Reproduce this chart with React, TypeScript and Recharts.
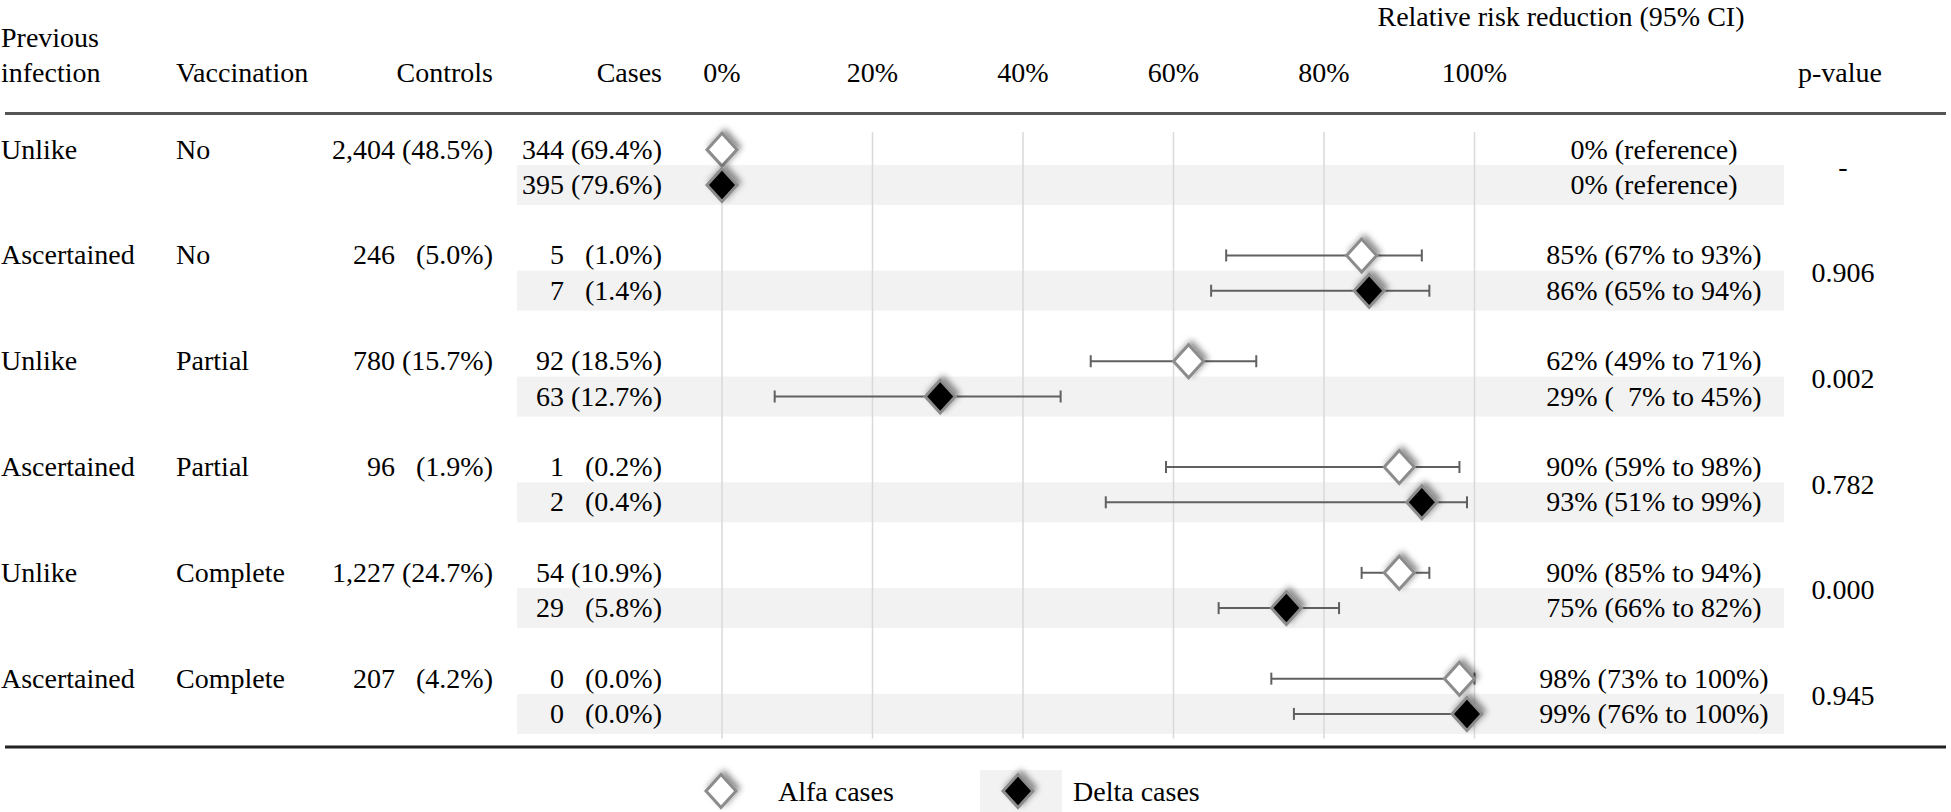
import React from 'react';
import { ScatterChart, Scatter, XAxis, YAxis, CartesianGrid, ErrorBar } from 'recharts';

// --- table data ---
const infection = ['Unlike', 'Ascertained', 'Unlike', 'Ascertained', 'Unlike', 'Ascertained'];
const vaccination = ['No', 'No', 'Partial', 'Partial', 'Complete', 'Complete'];
const controls = ['2,404 (48.5%)', '246   (5.0%)', '780 (15.7%)', '96   (1.9%)', '1,227 (24.7%)', '207   (4.2%)'];
const alfaCases = ['344 (69.4%)', '5   (1.0%)', '92 (18.5%)', '1   (0.2%)', '54 (10.9%)', '0   (0.0%)'];
const deltaCases = ['395 (79.6%)', '7   (1.4%)', '63 (12.7%)', '2   (0.4%)', '29   (5.8%)', '0   (0.0%)'];

// relative risk reduction (%) and 95% CI
const alfaRR = [0, 85, 62, 90, 90, 98];
const alfaLo = [null, 67, 49, 59, 85, 73];
const alfaHi = [null, 93, 71, 98, 94, 100];
const deltaRR = [0, 86, 29, 93, 75, 99];
const deltaLo = [null, 65, 7, 51, 66, 76];
const deltaHi = [null, 94, 45, 99, 82, 100];

const alfaLabels = ['0% (reference)', '85% (67% to 93%)', '62% (49% to 71%)', '90% (59% to 98%)', '90% (85% to 94%)', '98% (73% to 100%)'];
const deltaLabels = ['0% (reference)', '86% (65% to 94%)', '29% (  7% to 45%)', '93% (51% to 99%)', '75% (66% to 82%)', '99% (76% to 100%)'];
const pValues = ['-', '0.906', '0.002', '0.782', '0.000', '0.945'];
const xTicks = [0, 20, 40, 60, 80, 100];

// --- layout ---
const W = 1951;
const H = 812;
const FONT = '"Liberation Serif", "Times New Roman", serif';
const FS = 28;
const PLOT_LEFT = 722;
const PLOT_RIGHT = 1474.5;
const PLOT_TOP = 132;
const PLOT_BOTTOM = 738.6;
const X_AXIS_H = 60;
const Y_MIN = -0.5;
const Y_MAX = 16.7;

const rowY = (r: number) => PLOT_TOP + ((r - Y_MIN) * (PLOT_BOTTOM - PLOT_TOP)) / (Y_MAX - Y_MIN);

const makePoints = (rr: number[], lo: (number | null)[], hi: (number | null)[], offset: number) =>
  rr.map((v, g) => ({
    x: v,
    y: g * 3 + offset,
    err: lo[g] == null ? null : [v - (lo[g] as number), (hi[g] as number) - v],
  }));

const alfaPoints = makePoints(alfaRR, alfaLo, alfaHi, 0);
const deltaPoints = makePoints(deltaRR, deltaLo, deltaHi, 1);

const Diamond = ({ cx, cy, fill }: { cx: number; cy: number; fill: string }) => (
  <polygon
    points={`${cx},${cy - 16.5} ${cx + 15},${cy} ${cx},${cy + 16.5} ${cx - 15},${cy}`}
    fill={fill}
    stroke="#8c8c8c"
    strokeWidth={3}
    filter="url(#dshadow)"
  />
);

const T = ({ x, y, anchor = 'start', children }: any) => (
  <text
    x={x}
    y={y}
    textAnchor={anchor}
    fontFamily={FONT}
    fontSize={FS}
    fill="#000"
    xmlSpace="preserve"
    style={{ whiteSpace: 'pre' }}
  >
    {children}
  </text>
);

const Background = () => (
  <svg width={W} height={H} style={{ position: 'absolute', left: 0, top: 0 }}>
    <defs>
      <filter id="dshadow" x="-60%" y="-60%" width="220%" height="220%">
        <feDropShadow dx="3" dy="-3" stdDeviation="3" floodColor="#000" floodOpacity="0.45" />
      </filter>
    </defs>
    <rect x={0} y={0} width={W} height={H} fill="#fff" />

    {/* shaded delta rows */}
    {deltaPoints.map((p, g) => (
      <rect key={g} x={517} y={rowY(p.y) - 20} width={1267} height={40} fill="#f2f2f2" />
    ))}

    {/* header */}
    <T x={1561} y={26} anchor="middle">Relative risk reduction (95% CI)</T>
    <T x={1} y={46.5}>Previous</T>
    <T x={1} y={81.5}>infection</T>
    <T x={176} y={81.5}>Vaccination</T>
    <T x={493} y={81.5} anchor="end">Controls</T>
    <T x={662} y={81.5} anchor="end">Cases</T>
    <T x={1840} y={81.5} anchor="middle">p-value</T>
    <line x1={5} x2={1946} y1={113.5} y2={113.5} stroke="#555" strokeWidth={3} />
    <line x1={5} x2={1946} y1={747} y2={747} stroke="#222" strokeWidth={3} />

    {/* table rows */}
    {infection.map((inf, g) => {
      const ya = rowY(alfaPoints[g].y);
      const yd = rowY(deltaPoints[g].y);
      return (
        <g key={g}>
          <T x={1} y={ya + 9}>{inf}</T>
          <T x={176} y={ya + 9}>{vaccination[g]}</T>
          <T x={493} y={ya + 9} anchor="end">{controls[g]}</T>
          <T x={662} y={ya + 9} anchor="end">{alfaCases[g]}</T>
          <T x={662} y={yd + 9} anchor="end">{deltaCases[g]}</T>
          <T x={1654} y={ya + 9} anchor="middle">{alfaLabels[g]}</T>
          <T x={1654} y={yd + 9} anchor="middle">{deltaLabels[g]}</T>
          <T x={1843} y={(ya + yd) / 2 + 9} anchor="middle">{pValues[g]}</T>
        </g>
      );
    })}

    {/* legend */}
    <Diamond cx={721} cy={791} fill="#fff" />
    <T x={778} y={801}>Alfa cases</T>
    <rect x={980} y={770} width={82} height={42} fill="#f2f2f2" />
    <Diamond cx={1018} cy={791} fill="#000" />
    <T x={1073} y={801}>Delta cases</T>
  </svg>
);

export default function App() {
  return (
    <div style={{ position: 'absolute', left: 0, top: 0, width: W, height: H }}>
      <Background />
      <div style={{ position: 'absolute', left: 0, top: 0 }}>
        <ScatterChart
          width={W}
          height={H}
          margin={{ top: PLOT_TOP - X_AXIS_H, right: W - PLOT_RIGHT, bottom: H - PLOT_BOTTOM, left: PLOT_LEFT }}
        >
          <CartesianGrid horizontal={false} stroke="#d9d9d9" strokeWidth={1.5} />
          <XAxis
            type="number"
            dataKey="x"
            orientation="top"
            height={X_AXIS_H}
            domain={[0, 100]}
            ticks={xTicks}
            interval={0}
            tickFormatter={(v: number) => `${v}%`}
            axisLine={false}
            tickLine={false}
            tickSize={0}
            tickMargin={PLOT_TOP - 81.5}
            tick={{ fill: '#000', fontSize: FS, fontFamily: FONT }}
          />
          <YAxis type="number" dataKey="y" domain={[Y_MIN, Y_MAX]} reversed hide />
          <Scatter data={alfaPoints.filter((p) => p.err)} shape={() => <g />} isAnimationActive={false}>
            <ErrorBar dataKey="err" direction="x" width={6} stroke="#606060" strokeWidth={2} isAnimationActive={false} />
          </Scatter>
          <Scatter data={deltaPoints.filter((p) => p.err)} shape={() => <g />} isAnimationActive={false}>
            <ErrorBar dataKey="err" direction="x" width={6} stroke="#606060" strokeWidth={2} isAnimationActive={false} />
          </Scatter>
          <Scatter
            data={alfaPoints}
            isAnimationActive={false}
            shape={(p: any) => <Diamond cx={p.cx} cy={p.cy} fill="#fff" />}
          />
          <Scatter
            data={deltaPoints}
            isAnimationActive={false}
            shape={(p: any) => <Diamond cx={p.cx} cy={p.cy} fill="#000" />}
          />
        </ScatterChart>
      </div>
    </div>
  );
}
